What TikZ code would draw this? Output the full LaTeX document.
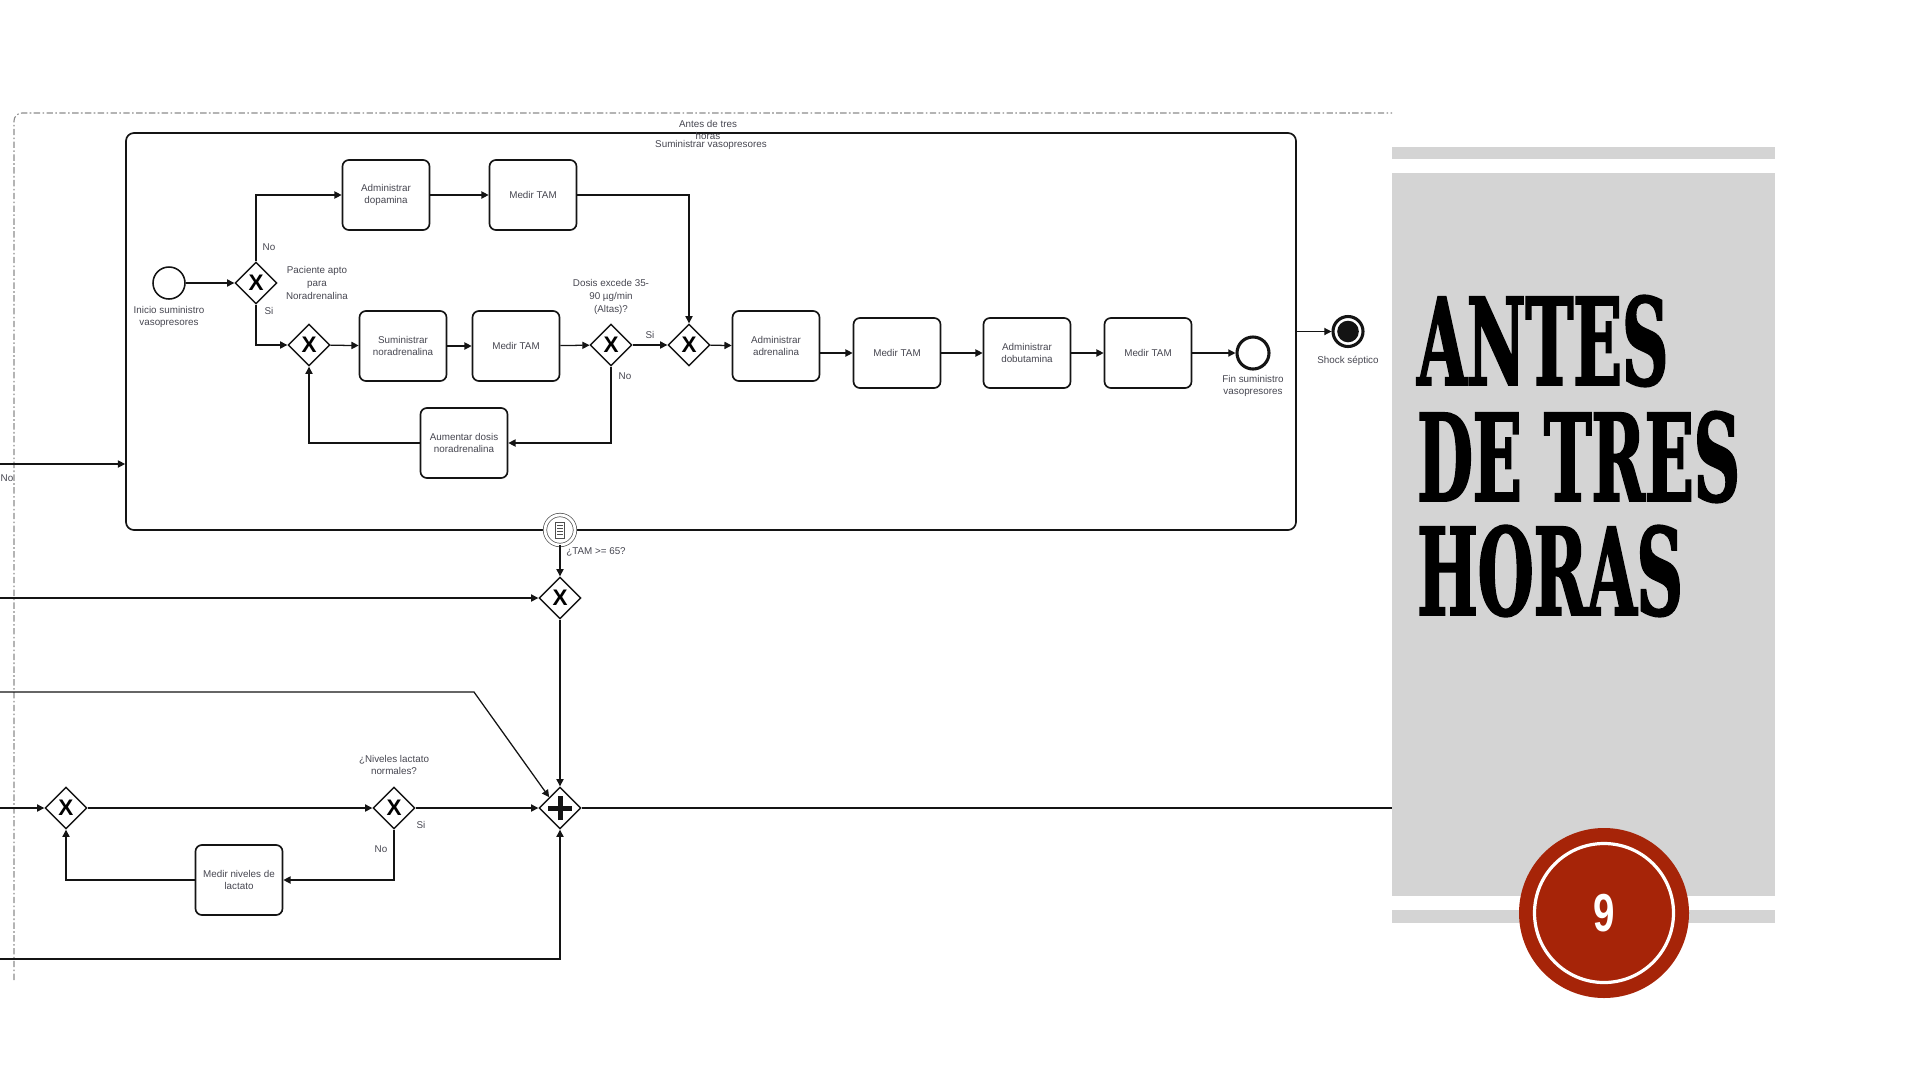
\documentclass[tikz,border=0pt]{standalone}
\usepackage{fontspec}
\usepackage{tikz}
\usetikzlibrary{arrows.meta,shapes.geometric,positioning,calc}
\setmainfont{Liberation Sans}
\newfontfamily\titlefont[FakeStretch=0.53,FakeBold=1.5]{DejaVu Serif}
\newfontfamily\badgefont[FakeStretch=0.72]{Liberation Sans}
\definecolor{lineDark}{RGB}{20,20,20}
\definecolor{labelGray}{RGB}{70,70,80}
\definecolor{poolGray}{RGB}{140,140,140}
\definecolor{panelGray}{RGB}{212,212,212}
\definecolor{badgeRed}{RGB}{166,36,8}
\newcommand{\smalltxt}{\fontsize{7}{9}\selectfont}
\tikzset{
  taskbox/.style={
    rectangle, rounded corners=1.6mm, draw=lineDark, line width=1.2pt, fill=white,
    minimum width=21.75mm, minimum height=17.5mm, align=center, inner sep=1pt,
    font=\smalltxt, text=labelGray
  },
  gateway/.style={
    diamond, draw=lineDark, line width=1pt, fill=white, minimum width=10.5mm,
    minimum height=10.5mm, inner sep=0pt, font=\fontsize{16}{16}\selectfont\bfseries
  },
  startev/.style={circle, draw=lineDark, line width=1.1pt, minimum size=8mm, inner sep=0pt},
  endev/.style={circle, draw=lineDark, line width=2.2pt, minimum size=8mm, inner sep=0pt},
  flowArrow/.style={draw=lineDark, line width=0.9pt, -{Triangle[length=1.8mm,width=1.8mm]}},
  flowLine/.style={draw=lineDark, line width=0.9pt},
  lbl/.style={font=\smalltxt, text=labelGray, align=center, inner sep=0pt},
  ttl/.style={anchor=base west, inner sep=0pt, font=\titlefont\fontsize{86}{90}\selectfont\bfseries}
}

\begin{document}
\begin{tikzpicture}[x=0.25mm, y=-0.25mm]
  \useasboundingbox (0,0) rectangle (1920,1080);

  % pool border
  \draw[poolGray, line width=0.8pt, rounded corners=2mm,
        dash pattern=on 1.6mm off 0.6mm on 0.4mm off 0.6mm] (14,980) -- (14,113) -- (1392,113);

  % subprocess
  \node[draw=lineDark, line width=1.2pt, rounded corners=2mm, minimum width=292.5mm,
        minimum height=99.25mm, inner sep=0pt] (sub) at (711,331.5) {};
  \node[lbl] (subTitle) at (708,130) {Antes de tres\\horas};
  \node[lbl] (subName) at (711,145) {Suministrar vasopresores};

  \node[startev] (inicio) at (169,283) {};
  \node[lbl] (inicioLbl) at (169,317) {Inicio suministro\\vasopresores};
  \node[gateway] (gApto) at (256,283) {X};
  \node[lbl] (aptoLbl) at (317,283) {Paciente apto\\para\\Noradrenalina};
  \node[lbl] (aptoNo) at (269,247) {No};
  \node[lbl] (aptoSi) at (269,311) {Si};

  \node[taskbox] (tDopa) at (386,195) {Administrar\\dopamina};
  \node[taskbox] (tTam1) at (533,195) {Medir TAM};
  \node[gateway] (gLoop) at (309,345) {X};
  \node[taskbox] (tNora) at (403,346) {Suministrar\\noradrenalina};
  \node[taskbox] (tTam2) at (516,346) {Medir TAM};
  \node[gateway] (gDosis) at (611,345) {X};
  \node[lbl] (dosisLbl) at (611,297) {Dosis excede 35-\\90 µg/min\\(Altas)?};
  \node[lbl] (dosisSi) at (650,335) {Si};
  \node[lbl] (dosisNo) at (625,376) {No};
  \node[gateway] (gJoin) at (689,345) {X};
  \node[taskbox] (tAumento) at (464,443) {Aumentar dosis\\noradrenalina};

  \node[taskbox] (tAdre) at (776,346) {Administrar\\adrenalina};
  \node[taskbox] (tTam3) at (897,353) {Medir TAM};
  \node[taskbox] (tDobu) at (1027,353) {Administrar\\dobutamina};
  \node[taskbox] (tTam4) at (1148,353) {Medir TAM};
  \node[endev] (fin) at (1253,353) {};
  \node[lbl] (finLbl) at (1253,386) {Fin suministro\\vasopresores};

  \node[endev, minimum size=7.5mm,
        path picture={\fill[lineDark] (path picture bounding box.center) circle (2.7mm);}]
        (shock) at (1348,331.5) {};
  \node[lbl] (shockLbl) at (1348,361) {Shock séptico};

  % conditional boundary event
  \node[circle, draw=lineDark!75, line width=0.5pt, double, double distance=0.7mm, fill=white,
        minimum size=7.5mm, inner sep=0pt] (tamEv) at (560,530) {};
  \draw[lineDark!75, line width=0.5pt, fill=white]
    ([xshift=-1.1mm,yshift=-2mm]tamEv.center) rectangle ([xshift=1.1mm,yshift=2mm]tamEv.center);
  \foreach \dy in {-1.2,-0.4,0.4,1.2}
    \draw[lineDark!75, line width=0.5pt]
      ([xshift=-0.7mm,yshift=\dy mm]tamEv.center) -- ([xshift=0.7mm,yshift=\dy mm]tamEv.center);
  \node[lbl, anchor=west] (tamLbl) at (566,552) {¿TAM >= 65?};

  % lower lane
  \node[gateway] (gTam) at (560,598) {X};
  \node[gateway] (gPar) at (560,808) {};
  \draw[lineDark, line width=1.25mm] ([xshift=-3mm]gPar.center) -- ([xshift=3mm]gPar.center);
  \draw[lineDark, line width=1.25mm] ([yshift=-3mm]gPar.center) -- ([yshift=3mm]gPar.center);
  \node[gateway] (gLac) at (66,808) {X};
  \node[gateway] (gNormal) at (394,808) {X};
  \node[lbl] (normalLbl) at (394,765) {¿Niveles lactato\\normales?};
  \node[lbl] (normalSi) at (421,825) {Si};
  \node[lbl] (normalNo) at (381,849) {No};
  \node[taskbox] (tLact) at (239,880) {Medir niveles de\\lactato};
  \node[lbl] (leftNo) at (7,478) {No};

  \coordinate (inSub) at (0,464);
  \coordinate (inTam) at (0,598);
  \coordinate (inDiag) at (0,692);
  \coordinate (kDiag) at (474,692);
  \coordinate (inLac) at (0,808);
  \coordinate (inPar) at (0,959);
  \coordinate (outPar) at (1392,808);

  % flows
  \draw[flowArrow] (inicio) -- (gApto);
  \draw[flowArrow] (gApto.north) |- (tDopa.west);
  \draw[flowArrow] (gApto.south) |- (gLoop.west);
  \draw[flowArrow] (tDopa) -- (tTam1);
  \draw[flowArrow] (tTam1.east) -| (gJoin.north);
  \draw[flowArrow] (gLoop) -- (tNora);
  \draw[flowArrow] (tNora) -- (tTam2);
  \draw[flowArrow] (tTam2) -- (gDosis);
  \draw[flowArrow] (gDosis) -- (gJoin);
  \draw[flowArrow] (gDosis.south) |- (tAumento.east);
  \draw[flowArrow] (tAumento.west) -| (gLoop.south);
  \draw[flowArrow] (gJoin) -- (tAdre);
  \draw[flowArrow] (tAdre.east |- tTam3.west) -- (tTam3.west);
  \draw[flowArrow] (tTam3) -- (tDobu);
  \draw[flowArrow] (tDobu) -- (tTam4);
  \draw[flowArrow] (tTam4) -- (fin);
  \draw[flowArrow] (sub.east) -- (shock);
  \draw[flowArrow] (inSub) -- (inSub -| sub.west);

  \draw[flowArrow] (tamEv) -- (gTam);
  \draw[flowArrow] (inTam) -- (gTam);
  \draw[flowArrow] (gTam) -- (gPar);
  \draw[flowArrow] (inDiag) -- (kDiag) -- (gPar.north west);
  \draw[flowArrow] (inLac) -- (gLac);
  \draw[flowArrow] (gLac) -- (gNormal);
  \draw[flowArrow] (gNormal) -- (gPar);
  \draw[flowArrow] (gNormal.south) |- (tLact.east);
  \draw[flowArrow] (tLact.west) -| (gLac.south);
  \draw[flowArrow] (inPar) -| (gPar.south);
  \draw[flowLine] (gPar) -- (outPar);

  % side panel
  \fill[panelGray] (1392,147) rectangle (1775,159);
  \fill[panelGray] (1392,173) rectangle (1775,896);
  \fill[panelGray] (1392,910) rectangle (1775,923);
  \node[ttl] (ttlA) at (1417,385) {ANTES};
  \node[ttl] (ttlB) at (1417,501) {DE TRES};
  \node[ttl] (ttlC) at (1417,615) {HORAS};

  \node[circle, fill=badgeRed, minimum size=42.5mm, inner sep=0pt] (badge) at (1604,913) {};
  \node[circle, draw=white, line width=0.8mm, minimum size=34.75mm, inner sep=0pt] (badgeRing) at (badge) {};
  \node[text=white, inner sep=0pt, font=\badgefont\fontsize{38}{38}\selectfont\bfseries] (badgeNum) at (badge) {9};
\end{tikzpicture}
\end{document}
